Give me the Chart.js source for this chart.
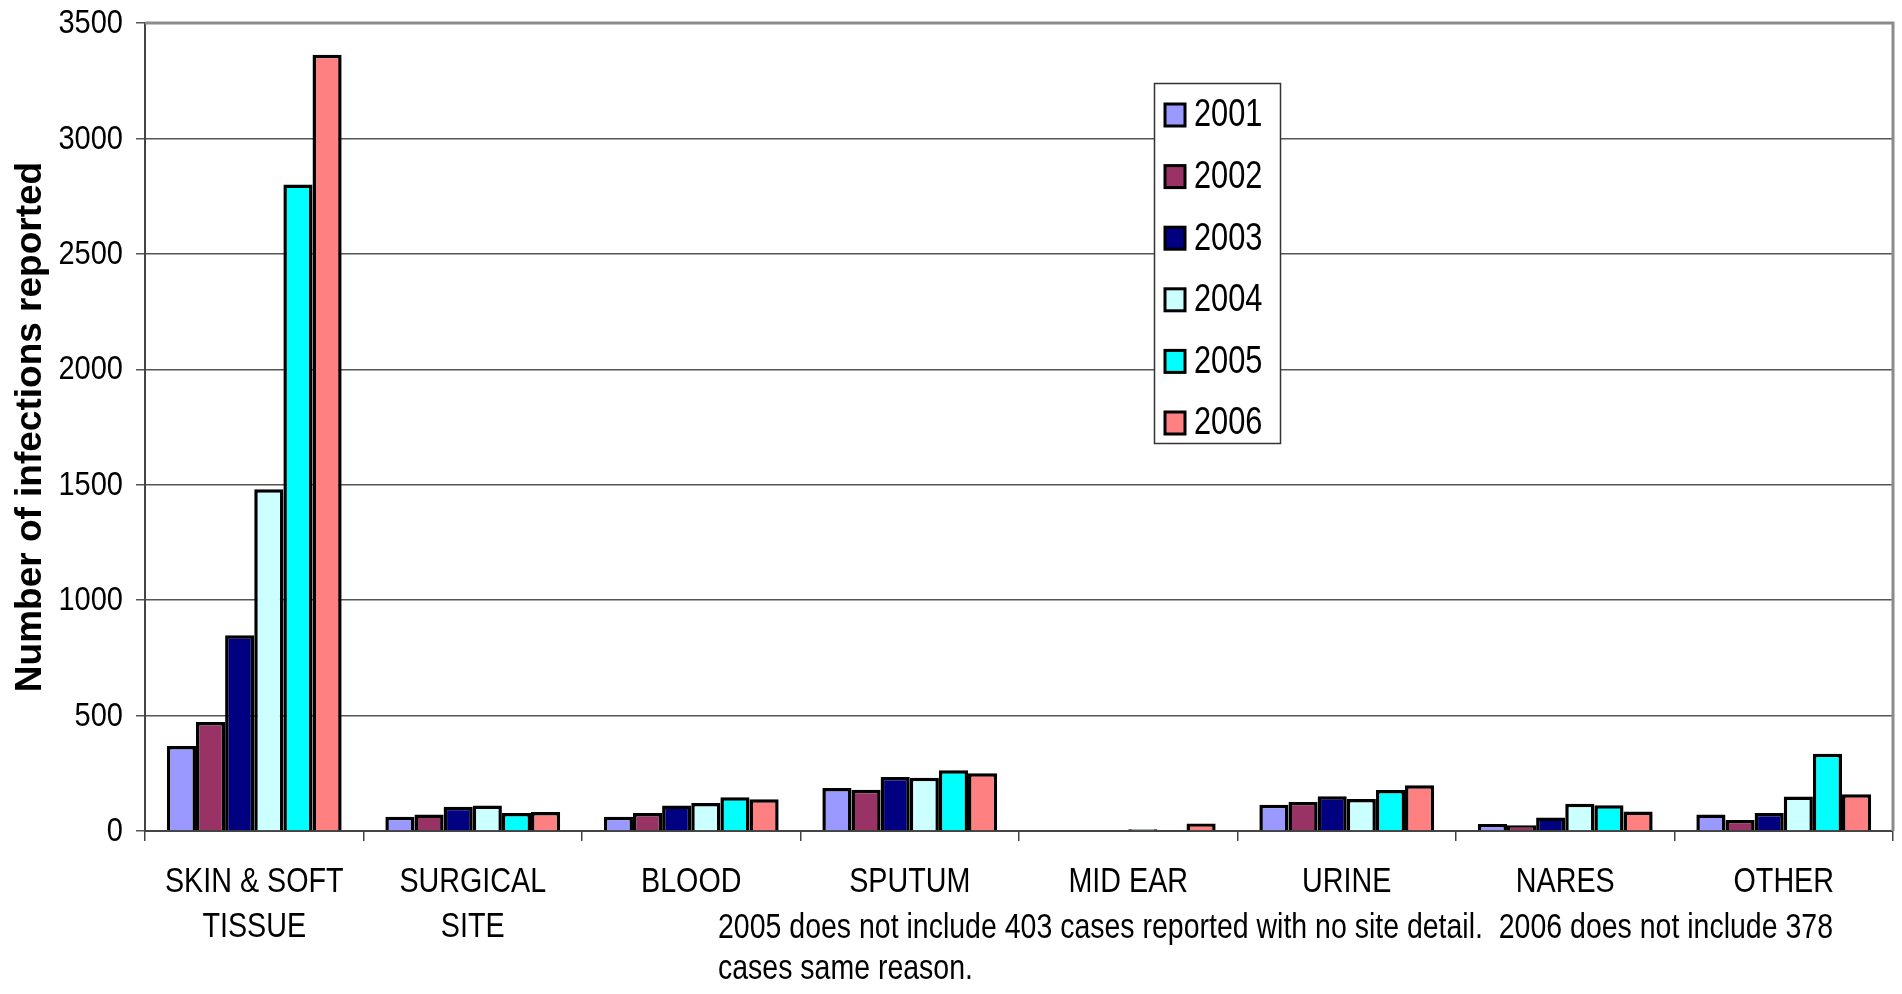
<!DOCTYPE html>
<html>
<head>
<meta charset="utf-8">
<script src="https://cdn.jsdelivr.net/npm/chart.js@4.4.1/dist/chart.umd.min.js"></script>
<style>
  html, body { margin: 0; padding: 0; background: #fff; }
  canvas { display: block; }
</style>
</head>
<body>
<canvas id="myChart" width="1902" height="994"></canvas>
<script>
// categories (two-line labels)
const categories = [
  ['SKIN & SOFT', 'TISSUE'],
  ['SURGICAL', 'SITE'],
  'BLOOD',
  'SPUTUM',
  'MID EAR',
  'URINE',
  'NARES',
  'OTHER'
];

const years = ['2001', '2002', '2003', '2004', '2005', '2006'];
const yearColors = ['#9999FF', '#993366', '#000080', '#CCFFFF', '#00FFFF', '#FF8080'];

// infections reported, one array per year, in category order
const v2001 = [368, 62, 62, 186, 0, 114, 30, 72];
const v2002 = [472, 71, 78, 179, 0, 126, 25, 48];
const v2003 = [848, 105, 110, 234, 3, 150, 58, 78];
const v2004 = [1480, 110, 121, 231, 8, 139, 118, 149];
const v2005 = [2800, 78, 146, 263, 4, 178, 111, 335];
const v2006 = [3363, 82, 137, 250, 33, 198, 85, 159];

const yTicks = [0, 500, 1000, 1500, 2000, 2500, 3000, 3500];

const noteLines = [
  '2005 does not include 403 cases reported with no site detail.  2006 does not include 378',
  'cases same reason.'
];

const fam = "'Liberation Sans', Arial, sans-serif";

const series = [v2001, v2002, v2003, v2004, v2005, v2006];
const data = {
  labels: categories,
  datasets: []
};
years.forEach((yr, i) => {
  data.datasets.push({
    label: yr,
    data: series[i],
    backgroundColor: yearColors[i],
    borderColor: '#000',
    borderWidth: 3.5,
    categoryPercentage: 0.8,
    barPercentage: 1.0
  });
});

// the original text is a squeezed Arial, no narrow font here so scale it
function squeezed(ctx, text, px, py, sx) {
  ctx.save();
  ctx.translate(px, py);
  ctx.scale(sx, 1);
  ctx.fillText(text, 0, 0);
  ctx.restore();
}

// legend box drawn inside the plot, like the original
const boxLegend = {
  id: 'boxLegend',
  afterDraw(chart) {
    const ctx = chart.ctx;
    const left = 1154, top = 83, w = 126, h = 360;
    ctx.save();
    ctx.fillStyle = '#fff';
    ctx.fillRect(left, top, w, h);
    ctx.strokeStyle = '#333';
    ctx.lineWidth = 1.5;
    ctx.strokeRect(left + 0.5, top + 0.5, w, h);
    ctx.font = '38px ' + fam;
    ctx.textBaseline = 'middle';
    ctx.textAlign = 'left';
    chart.data.datasets.forEach((ds, i) => {
      const cy = top + 32 + i * 61.6;
      ctx.fillStyle = ds.backgroundColor;
      ctx.fillRect(left + 11, cy - 11, 20, 22);
      ctx.strokeStyle = '#000';
      ctx.lineWidth = 3;
      ctx.strokeRect(left + 11, cy - 11, 20, 22);
      ctx.fillStyle = '#000';
      squeezed(ctx, ds.label, left + 40, cy + 1, 0.81);
    });
    ctx.restore();
  }
};

// tick labels, plot frame (top / right) and the footnote text box
const frameAndText = {
  id: 'frameAndText',
  beforeDatasetsDraw(chart) {
    const { ctx, chartArea } = chart;
    ctx.save();
    ctx.strokeStyle = '#8c8c8c';
    ctx.lineWidth = 3;
    ctx.beginPath();
    ctx.moveTo(chartArea.left, chartArea.top);
    ctx.lineTo(chartArea.right, chartArea.top);
    ctx.lineTo(chartArea.right, chartArea.bottom);
    ctx.stroke();
    ctx.restore();
  },
  afterDraw(chart) {
    const { ctx, scales } = chart;
    const xs = scales.x, ys = scales.y;
    ctx.save();
    ctx.fillStyle = '#000';

    // y tick labels
    ctx.font = '33px ' + fam;
    ctx.textAlign = 'right';
    ctx.textBaseline = 'middle';
    ys.ticks.forEach(t => {
      squeezed(ctx, String(t.value), ys.right - 22, ys.getPixelForValue(t.value) + 1, 0.88);
    });

    // category labels
    ctx.font = '35px ' + fam;
    ctx.textAlign = 'center';
    categories.forEach((lab, i) => {
      const lines = Array.isArray(lab) ? lab : [lab];
      const cx = xs.getPixelForTick(i);
      lines.forEach((ln, j) => {
        squeezed(ctx, ln, cx, xs.top + 51 + j * 45, 0.82);
      });
    });

    // footnote
    ctx.font = '35px ' + fam;
    ctx.textAlign = 'left';
    const sx = 1115 / ctx.measureText(noteLines[0]).width;
    squeezed(ctx, noteLines[0], 718, 928, sx);
    squeezed(ctx, noteLines[1], 718, 969, sx);
    ctx.restore();
  }
};

const myChart = new Chart(document.getElementById('myChart'), {
  type: 'bar',
  data,
  options: {
    responsive: false,
    animation: false,
    layout: {
      padding: { top: 23, right: 9, left: 0, bottom: 0 }
    },
    plugins: {
      legend: { display: false },
      tooltip: { enabled: false }
    },
    scales: {
      x: {
        grid: {
          offset: true,
          drawOnChartArea: false,
          drawTicks: true,
          tickLength: 10,
          color: '#444',
          lineWidth: 1.5
        },
        border: { display: true, color: '#444', width: 2 },
        ticks: { display: false },
        afterFit(scale) { scale.height = 163; }
      },
      y: {
        min: 0,
        max: 3500,
        afterBuildTicks(scale) {
          scale.ticks = yTicks.map(v => ({ value: v }));
        },
        grid: {
          color: '#555',
          lineWidth: 1.5,
          drawTicks: true,
          tickLength: 9
        },
        border: { display: true, color: '#444', width: 2 },
        ticks: { display: false },
        title: {
          display: true,
          text: 'Number of infections reported',
          color: '#000',
          padding: { top: 9, bottom: 0 },
          font: { family: fam, size: 37, weight: 'bold' }
        },
        afterFit(scale) { scale.width = 145; }
      }
    }
  },
  plugins: [frameAndText, boxLegend]
});
</script>
</body>
</html>
